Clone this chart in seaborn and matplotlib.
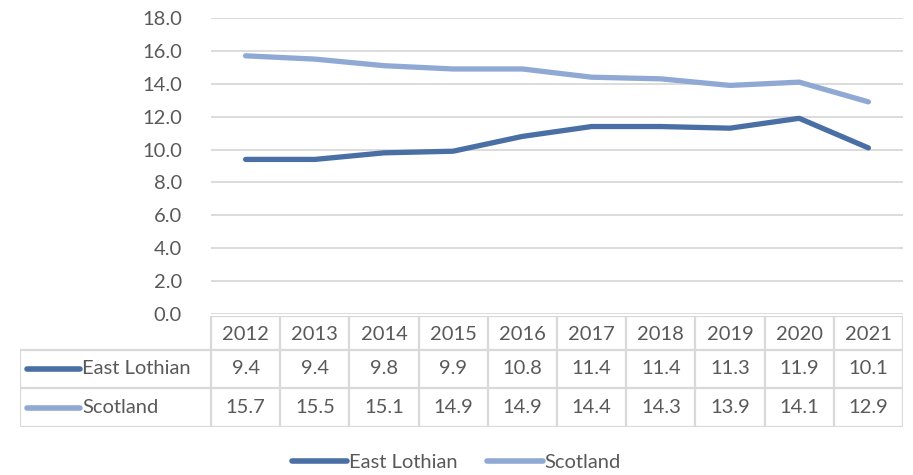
import matplotlib
matplotlib.use("Agg")
import matplotlib.pyplot as plt
from matplotlib.lines import Line2D
import numpy as np
import pandas as pd
import seaborn as sns

years = [2012, 2013, 2014, 2015, 2016, 2017, 2018, 2019, 2020, 2021]
east_lothian = [9.4, 9.4, 9.8, 9.9, 10.8, 11.4, 11.4, 11.3, 11.9, 10.1]
scotland = [15.7, 15.5, 15.1, 14.9, 14.9, 14.4, 14.3, 13.9, 14.1, 12.9]
series_names = ["East Lothian", "Scotland"]
y_ticks = [0, 2, 4, 6, 8, 10, 12, 14, 16, 18]

colors = {"East Lothian": "#4A6FA5", "Scotland": "#8FA9D4"}
text_color = "#595959"
grid_color = "#D9D9D9"
font = "Lato"
fs = 14.5

sns.set_theme(style="white")
plt.rcParams["font.family"] = [font, "DejaVu Sans"]

W, H = 913, 475
fig = plt.figure(figsize=(W / 100, H / 100), dpi=100)

# main plot area (pixel box converted to figure fractions)
px_left, px_right, px_top, px_bottom = 211, 903, 18, 314
ax = fig.add_axes([px_left / W, 1 - px_bottom / H,
                   (px_right - px_left) / W, (px_bottom - px_top) / H])

df = pd.DataFrame({
    "pos": list(np.arange(len(years)) + 0.5) * 2,
    "value": east_lothian + scotland,
    "series": [series_names[0]] * len(years) + [series_names[1]] * len(years),
})
sns.lineplot(data=df, x="pos", y="value", hue="series", palette=colors,
             linewidth=3.8, ax=ax, legend=False, solid_capstyle="round")
ax.set_xlim(0, len(years))
ax.set_ylim(0, 18)
ax.set_yticks(y_ticks)
ax.set_yticklabels([f"{v:.1f}" for v in y_ticks], color=text_color, fontsize=fs)
ax.set_xticks([])
ax.set_xlabel("")
ax.set_ylabel("")
ax.tick_params(axis="y", length=0, pad=21)
ax.grid(axis="y", color=grid_color, linewidth=1.3)
ax.set_axisbelow(True)
for s in ax.spines.values():
    s.set_visible(False)

# data table underneath the plot
tbl_left, tbl_top, tbl_bottom = 20, 316, 427
col_w = (px_right - px_left) / len(years)
label_units = (px_left - tbl_left) / col_w
tax = fig.add_axes([tbl_left / W, 1 - tbl_bottom / H,
                    (px_right - tbl_left) / W, (tbl_bottom - tbl_top) / H])
tax.set_xlim(-label_units, len(years))
row_edges = [0, 34, 72, 111]  # pixel offsets from table top
tax.set_ylim(row_edges[-1], 0)
tax.axis("off")
lw = 1.6
# horizontal lines
tax.plot([0, len(years)], [0, 0], color=grid_color, lw=lw)
for r in row_edges[1:]:
    tax.plot([-label_units, len(years)], [r, r], color=grid_color, lw=lw)
# vertical lines
for i in range(len(years) + 1):
    tax.plot([i, i], [0, row_edges[-1]], color=grid_color, lw=lw)
tax.plot([-label_units, -label_units], [row_edges[1], row_edges[-1]],
         color=grid_color, lw=lw)

for i, yr in enumerate(years):
    tax.text(i + 0.5, (row_edges[0] + row_edges[1]) / 2 + 1, str(yr),
             ha="center", va="center", color=text_color, fontsize=fs)
rows = [east_lothian, scotland]
for r, (name, vals) in enumerate(zip(series_names, rows)):
    yc = (row_edges[r + 1] + row_edges[r + 2]) / 2
    for i, v in enumerate(vals):
        tax.text(i + 0.5, yc, f"{v:.1f}", ha="center", va="center",
                 color=text_color, fontsize=fs)
    x0 = -label_units + 7 / col_w
    x1 = -label_units + 60 / col_w
    tax.plot([x0, x1], [yc, yc], color=colors[name], lw=4,
             solid_capstyle="round")
    tax.text(x1 + 2 / col_w, yc, name, ha="left", va="center",
             color=text_color, fontsize=fs)

# legend below the table
handles = [Line2D([0], [0], color=colors[n], lw=4, solid_capstyle="round")
           for n in series_names]
fig.legend(handles, series_names, loc="center", bbox_to_anchor=(0.5, 1 - 462 / H),
           ncol=2, frameon=False, fontsize=fs, labelcolor=text_color,
           handlelength=2.75, handletextpad=0.1, columnspacing=1.45)

fig.savefig("out.png", dpi=100)
